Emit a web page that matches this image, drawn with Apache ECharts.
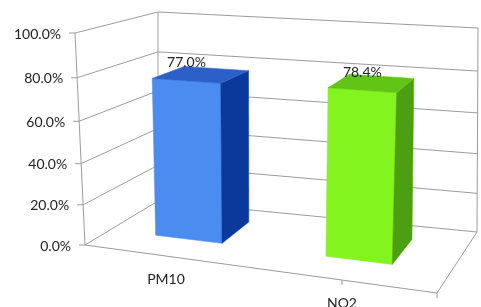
<!DOCTYPE html>
<html>
<head>
<meta charset="utf-8">
<script src="https://cdn.jsdelivr.net/npm/echarts@6/dist/echarts.min.js"></script>
<style>html,body{margin:0;padding:0;background:#fff}#c{width:481px;height:307px}</style>
</head>
<body>
<div id="c"></div>
<script>
// ---- data ----
const categories = ['PM10', 'NO2'];
const values = [77.0, 78.4];
const valueLabels = ['77.0%', '78.4%'];
const tickValues = [0, 20, 40, 60, 80, 100];
const tickLabels = ['0.0%', '20.0%', '40.0%', '60.0%', '80.0%', '100.0%'];

// ---- styles ----
const frontColors = ['#4A8CF0', '#84F41E'];
const topColors = ['#2C60C8', '#62C516'];
const sideColors = ['#0B399B', '#4C9F12'];
const lineColor = '#9c9c9c';
const textColor = '#222';
const FONT = 'Lato, "Open Sans", sans-serif';

// perspective-like box projection anchored on the grid rect
function makeProj(cs) {
  const x0 = cs.x, x1 = cs.x + cs.width, yb = cs.y + cs.height, yt = cs.y;
  const C = {
    FLB: [x0, yb], FRB: [x1, yb + 48], BLB: [x0 + 73, yb - 44], BRB: [x1 + 40, yb - 13],
    FLT: [x0 - 10, yt], FRT: [x1 + 12, yt + 22], BLT: [x0 + 73, yt - 21], BRT: [x1 + 41, yt - 5]
  };
  const lerp = (a, b, t) => [a[0] + (b[0] - a[0]) * t, a[1] + (b[1] - a[1]) * t];
  return function (u, v, d) {
    const w = v / (1.07 - 0.07 * v);
    const fb = lerp(C.FLB, C.FRB, u), bb = lerp(C.BLB, C.BRB, u);
    const ft = lerp(C.FLT, C.FRT, u), bt = lerp(C.BLT, C.BRT, u);
    return lerp(lerp(fb, bb, d), lerp(ft, bt, d), w);
  };
}
const CAT_SHIFT = -0.02;
const D0 = 0.35, D1 = 0.78, BAR_RATIO = 0.39;

function line(a, b, extra) {
  return Object.assign({
    type: 'line',
    shape: { x1: a[0], y1: a[1], x2: b[0], y2: b[1] },
    style: { stroke: lineColor, lineWidth: 1 }
  }, extra || {});
}

function renderFrame(params, api) {
  const cs = params.coordSys;
  const P = makeProj(cs);
  const py = api.coord([0, api.value(1)])[1];
  const v = (cs.y + cs.height - py) / cs.height;
  const idx = params.dataIndex;
  const children = [];
  const a = P(0, v, 0), b = P(0, v, 1), c = P(1, v, 1);
  children.push(line(a, b));
  children.push(line(b, c));
  children.push(line(a, [a[0] - 6, a[1]]));
  children.push({
    type: 'text',
    style: { text: tickLabels[idx], x: a[0] - 14, y: a[1] + 1, align: 'right', verticalAlign: 'middle',
      fill: textColor, font: '14px ' + FONT }
  });
  if (idx === 0) {
    children.push(line(P(0, 0, 0), P(0, 1, 0)));
    children.push(line(P(0, 0, 1), P(0, 1, 1)));
    children.push(line(P(1, 0, 1), P(1, 1, 1)));
    children.push(line(P(0, 0, 0), P(1, 0, 0)));
    children.push(line(P(1, 0, 0), P(1, 0, 1)));
    const band = api.size([1, 0])[0] / cs.width;
    for (let k = 1; k < categories.length; k++) {
      const px = api.coord([k - 0.5, 0])[0];
      const u = (px - cs.x) / cs.width + CAT_SHIFT;
      const p = P(u, 0, 0);
      children.push(line(p, [p[0], p[1] + 5]));
    }
    const pe = P(1, 0, 0);
    children.push(line(pe, [pe[0], pe[1] + 5]));
  }
  return { type: 'group', children: children };
}

function renderBar(params, api) {
  const cs = params.coordSys;
  const P = makeProj(cs);
  const i = params.dataIndex;
  const pt = api.coord([api.value(0), api.value(1)]);
  const band = api.size([1, 0])[0];
  const uc = (pt[0] - cs.x) / cs.width + CAT_SHIFT;
  const hw = band * BAR_RATIO / 2 / cs.width;
  const u0 = uc - hw, u1 = uc + hw;
  const v = (cs.y + cs.height - pt[1]) / cs.height;
  const poly = (pts, fill) => ({ type: 'polygon', shape: { points: pts }, style: { fill: fill, stroke: fill, lineWidth: 0.5 } });
  const lab = P(uc, v, D0);
  const cat = P(uc, 0, 0);
  return {
    type: 'group',
    children: [
      poly([P(u0, 0, D0), P(u1, 0, D0), P(u1, v, D0), P(u0, v, D0)], frontColors[i]),
      poly([P(u1, 0, D0), P(u1, 0, D1), P(u1, v, D1), P(u1, v, D0)], sideColors[i]),
      poly([P(u0, v, D0), P(u1, v, D0), P(u1, v, D1), P(u0, v, D1)], topColors[i]),
      { type: 'text', style: { text: valueLabels[i], x: lab[0], y: lab[1] - 18, align: 'center', verticalAlign: 'middle',
        fill: textColor, font: '14px ' + FONT } },
      { type: 'text', style: { text: categories[i], x: cat[0], y: cat[1] + 23, align: 'center', verticalAlign: 'middle',
        fill: textColor, font: '14px ' + FONT } }
    ]
  };
}

const chart = echarts.init(document.getElementById('c'), null, { renderer: 'canvas' });
chart.setOption({
  animation: false,
  backgroundColor: '#fff',
  grid: { left: 85, right: 44, top: 33, bottom: 62, containLabel: false },
  xAxis: { type: 'category', data: categories, show: false },
  yAxis: { type: 'value', min: 0, max: 100, interval: 20, show: false },
  series: [
    { type: 'custom', name: 'frame', renderItem: renderFrame, silent: true, z: 1,
      data: tickValues.map(t => [0, t]) },
    { type: 'custom', name: 'bars', renderItem: renderBar, silent: true, z: 2,
      data: values.map((v, i) => [i, v]) }
  ]
});
</script>
</body>
</html>
